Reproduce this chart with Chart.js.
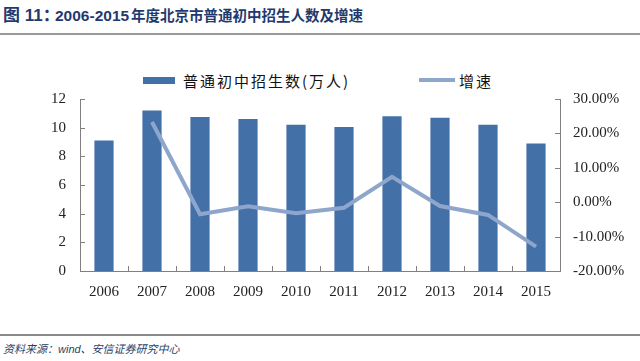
<!DOCTYPE html>
<html>
<head>
<meta charset="utf-8">
<script src="https://cdn.jsdelivr.net/npm/chart.js@4/dist/chart.umd.min.js"></script>
<style>
  html, body { margin: 0; padding: 0; background: #fff; }
  body { width: 640px; height: 361px; position: relative; overflow: hidden; }
  #title { position: absolute; left: 3px; top: 4px; height: 24px; display: flex; align-items: baseline;
           font-family: "Liberation Sans", "Noto Sans CJK SC", sans-serif;
           font-weight: bold; font-size: 17px; line-height: 24px; color: #1f3a6e; white-space: nowrap; }
  #title span { display: inline-block; flex: none; }
  #title .yr { font-size: 15.5px; }
  #title .cn { font-size: 14.5px; }
  #topline { position: absolute; left: 0; top: 33px; width: 640px; height: 2px; background: #9a9a9a; }
  #botline { position: absolute; left: 0; top: 334px; width: 640px; height: 2px; background: #8a8a8a; }
  #source { position: absolute; left: 3px; top: 340px; font-family: "Liberation Sans", "Noto Sans CJK SC", sans-serif;
            font-style: italic; font-size: 11px; color: #2a3f6a; white-space: nowrap; }
  #legend { position: absolute; top: 70px; left: 0; width: 640px; height: 20px;
            font-family: "Noto Sans CJK SC", serif; font-size: 15px; color: #111; letter-spacing: 2px; }
  .lg { position: absolute; top: 0; display: flex; align-items: center; height: 20px; }
  .lg .bar { width: 32px; height: 7px; background: #4470a8; margin-right: 8px; }
  .lg .line { width: 36px; height: 4px; background: #8fa6cc; margin-right: 4px; }
  #wrap { position: absolute; left: 0; top: 40px; width: 640px; height: 290px; }
</style>
</head>
<body>
<div id="title"><span style="width:52px">图 11：</span><span class="yr" style="width:76px">2006-2015</span><span class="cn">年度北京市普通初中招生人数及增速</span></div>
<div id="topline"></div>
<div id="legend">
  <div class="lg" style="left:143px"><div class="bar"></div><span>普通初中招生数(万人)</span></div>
  <div class="lg" style="left:419px"><div class="line"></div><span>增速</span></div>
</div>
<div id="wrap"><canvas id="chart"></canvas></div>
<div id="botline"></div>
<div id="source">资料来源：wind、安信证券研究中心</div>

<script>
// categories and series
const years = ["2006", "2007", "2008", "2009", "2010", "2011", "2012", "2013", "2014", "2015"];
const enrolment = [9.1, 11.2, 10.75, 10.6, 10.2, 10.05, 10.8, 10.7, 10.2, 8.9];   // 万人
const growth = [null, 23.3, -3.5, -1.2, -3.2, -1.6, 7.4, -1.1, -3.7, -12.9];    // %

const leftTicks = [0, 2, 4, 6, 8, 10, 12];
const rightTicks = [-20, -10, 0, 10, 20, 30];

// short tick marks drawn inside the plot area (Excel style)
const insideTicks = {
    id: "insideTicks",
    afterDraw(chart) {
        const c = chart.ctx;
        const x = chart.scales.x, yl = chart.scales.y, yr = chart.scales.y1;
        const len = 5;
        c.save();
        c.strokeStyle = "#808080";
        c.lineWidth = 1;
        c.beginPath();
        // x axis: between categories
        for (let i = 1; i < years.length; i++) {
            const px = Math.round((x.getPixelForValue(i - 1) + x.getPixelForValue(i)) / 2) + 0.5;
            c.moveTo(px, x.top);
            c.lineTo(px, x.top - len);
        }
        leftTicks.forEach(v => {
            const py = Math.round(yl.getPixelForValue(v)) + 0.5;
            c.moveTo(yl.right, py);
            c.lineTo(yl.right + len, py);
        });
        rightTicks.forEach(v => {
            const py = Math.round(yr.getPixelForValue(v)) + 0.5;
            c.moveTo(yr.left, py);
            c.lineTo(yr.left - len, py);
        });
        c.stroke();
        c.restore();
    }
};

const serif = { family: "'Liberation Serif', 'Times New Roman', serif", size: 15 };

new Chart(document.getElementById("chart"), {
    type: "bar",
    data: {
        labels: years,
        datasets: [
            {
                label: "增速",
                type: "line",
                data: growth,
                yAxisID: "y1",
                borderColor: "#8fa6cc",
                borderWidth: 4,
                pointRadius: 0,
                tension: 0,
                spanGaps: false,
                order: 0
            },
            {
                label: "普通初中招生数(万人)",
                data: enrolment,
                yAxisID: "y",
                backgroundColor: "#4470a8",
                categoryPercentage: 0.8,
                barPercentage: 0.5,
                order: 1
            }
        ]
    },
    options: {
        responsive: true,
        maintainAspectRatio: false,
        animation: false,
        layout: { padding: { top: 59, left: 0, right: 0, bottom: 0 } },
        plugins: { legend: { display: false }, tooltip: { enabled: false } },
        scales: {
            x: {
                grid: { display: false, drawTicks: false },
                border: { color: "#808080", width: 1 },
                ticks: { color: "#222", font: serif, padding: 12 },
                afterFit: s => { s.height = 59; }
            },
            y: {
                position: "left",
                min: 0, max: 12,
                grid: { display: false, drawTicks: false },
                border: { color: "#808080", width: 1 },
                ticks: { stepSize: 2, color: "#222", font: serif, padding: 14 },
                afterFit: s => { s.width = 80; }
            },
            y1: {
                position: "right",
                min: -20, max: 30,
                grid: { display: false, drawTicks: false },
                border: { color: "#808080", width: 1 },
                ticks: {
                    stepSize: 10, color: "#222", font: serif, padding: 13,
                    callback: v => v.toFixed(2) + "%"
                },
                afterFit: s => { s.width = 80; }
            }
        }
    },
    plugins: [insideTicks]
});
</script>
</body>
</html>
